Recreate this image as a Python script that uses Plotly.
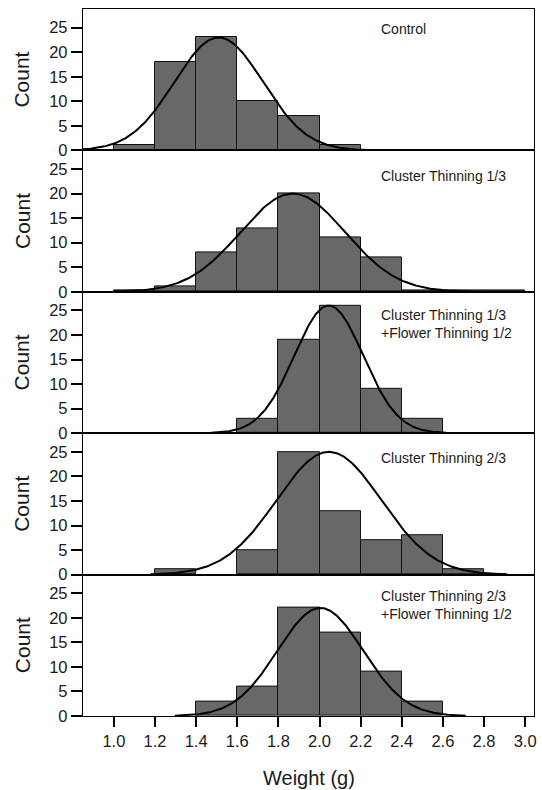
import numpy as np
import plotly.graph_objects as go
from plotly.subplots import make_subplots

# ---- data ----
bin_left = [1.0, 1.2, 1.4, 1.6, 1.8, 2.0, 2.2, 2.4, 2.6, 2.8]
bin_width = 0.2
panel_labels = [
    "Control",
    "Cluster Thinning 1/3",
    "Cluster Thinning 1/3<br>+Flower Thinning 1/2",
    "Cluster Thinning 2/3",
    "Cluster Thinning 2/3<br>+Flower Thinning 1/2",
]
counts_control = [1, 18, 23, 10, 7, 1, 0, 0, 0, 0]
counts_ct13 = [0.25, 1, 8, 13, 20, 11, 7, 0.25, 0.25, 0.25]
counts_ct13_ft12 = [0, 0, 0, 3, 19, 26, 9, 3, 0, 0]
counts_ct23 = [0, 1, 0, 5, 25, 13, 7, 8, 1, 0]
counts_ct23_ft12 = [0, 0, 3, 6, 22, 17, 9, 3, 0, 0]
all_counts = [counts_control, counts_ct13, counts_ct13_ft12, counts_ct23, counts_ct23_ft12]

# fitted normal curves (mean, sd) scaled to the tallest bar
fit_mean = [1.51, 1.87, 2.045, 2.046, 2.004]
fit_sd = [0.215, 0.255, 0.168, 0.255, 0.208]

y_ticks = [0, 5, 10, 15, 20, 25]
x_ticks = [1.0, 1.2, 1.4, 1.6, 1.8, 2.0, 2.2, 2.4, 2.6, 2.8, 3.0]
x_ticktext = ["1.0", "1.2", "1.4", "1.6", "1.8", "2.0", "2.2", "2.4", "2.6", "2.8", "3.0"]

# ---- figure ----
FONT = "Liberation Sans, Arial, sans-serif"
W, H = 542, 790
ML, MR, MT, MB = 83, 5, 9, 74
label_offsets = [10, 16, 13, 15, 11]  # px from panel top to text box top

fig = make_subplots(rows=5, cols=1, shared_xaxes=True, vertical_spacing=0)

centers = [b + bin_width / 2 for b in bin_left]
for i, counts in enumerate(all_counts):
    r = i + 1
    xs, ys = [], []
    for c, v in zip(centers, counts):
        if v > 0:
            xs.append(c)
            ys.append(v)
    fig.add_trace(go.Bar(
        x=xs, y=ys, width=bin_width,
        marker=dict(color="#686868", line=dict(color="#111111", width=1)),
        showlegend=False, hoverinfo="x+y"), row=r, col=1)
    m, s = fit_mean[i], fit_sd[i]
    peak = max(counts)
    cx = np.linspace(m - 3.4 * s, m + 3.4 * s, 300)
    cy = peak * np.exp(-0.5 * ((cx - m) / s) ** 2)
    fig.add_trace(go.Scatter(
        x=cx, y=cy, mode="lines", line=dict(color="black", width=2),
        showlegend=False, hoverinfo="skip", cliponaxis=True), row=r, col=1)

    fig.update_yaxes(
        row=r, col=1, range=[0, 28.8], tickvals=y_ticks,
        ticks="outside", ticklen=11, tickwidth=1.5, tickcolor="black",
        showline=True, linecolor="black", linewidth=1.4, mirror=True,
        showgrid=False, zeroline=False,
        tickfont=dict(family=FONT, size=16.5, color="#1a1a1a"),
    )
    yname = "y" if r == 1 else f"y{r}"
    fig.add_annotation(
        text=panel_labels[i], xref="paper", yref=f"{yname} domain",
        x=(380.5 - ML) / (W - ML - MR), y=1 - label_offsets[i] / ((H - MT - MB) / 5),
        xanchor="left", yanchor="top", align="left", showarrow=False,
        font=dict(family=FONT, size=14, color="#1a1a1a"),
    )
    fig.add_annotation(
        text="Count", xref="paper", yref=f"{yname} domain",
        x=(21.5 - ML) / (W - ML - MR), y=0.5, xanchor="center", yanchor="middle",
        textangle=-90, showarrow=False,
        font=dict(family=FONT, size=21, color="#1a1a1a"),
    )

for r in range(1, 6):
    fig.update_xaxes(
        row=r, col=1, range=[0.850, 3.043], tickvals=x_ticks, ticktext=x_ticktext,
        showline=True, linecolor="black", linewidth=1.4, mirror=True,
        showgrid=False, zeroline=False,
        ticks="outside" if r == 5 else "", ticklen=10, tickwidth=1.5, tickcolor="black",
        showticklabels=(r == 5),
        tickfont=dict(family=FONT, size=16.5, color="#1a1a1a"),
    )

fig.add_annotation(
    text="Weight (g)", xref="paper", yref="paper",
    x=(310 - ML) / (W - ML - MR), y=-(778 - (H - MB)) / (H - MT - MB),
    xanchor="center", yanchor="middle", showarrow=False,
    font=dict(family=FONT, size=20, color="#1a1a1a"),
)

fig.update_layout(
    width=W, height=H, margin=dict(l=ML, r=MR, t=MT, b=MB),
    paper_bgcolor="white", plot_bgcolor="white", bargap=0,
    font=dict(family=FONT),
)

fig.write_html("out.html", config={"displayModeBar": False})

# remove the browser's default body margin so the figure sits at the page origin
with open("out.html", "r", encoding="utf-8") as f:
    html = f.read()
html = html.replace("<head>", "<head><style>html,body{margin:0;padding:0;overflow:hidden;}</style>", 1)
with open("out.html", "w", encoding="utf-8") as f:
    f.write(html)
